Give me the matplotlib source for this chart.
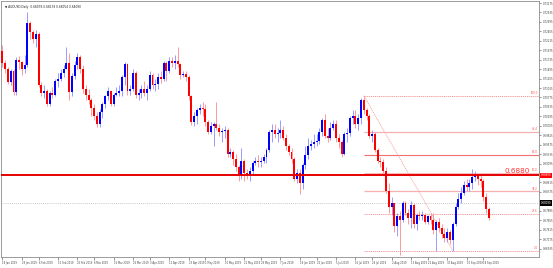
import matplotlib
matplotlib.use("Agg")
import matplotlib.pyplot as plt

# ---------------- data (AUDUSD daily, prices in pips /10000) ----------------
first_open = 7195
close = [7165, 7150, 7118, 7145, 7092, 7172, 7168, 7150, 7160, 7268,
         7245, 7225, 7238, 7110, 7090, 7095, 7062, 7090, 7085, 7120,
         7125, 7140, 7150, 7165, 7092, 7132, 7160, 7180, 7150, 7100,
         7085, 7070, 7050, 7030, 7010, 7040, 7060, 7080, 7095, 7060,
         7085, 7090, 7095, 7130, 7162, 7095, 7100, 7140, 7085, 7088,
         7100, 7090, 7100, 7135, 7110, 7112, 7130, 7125, 7165, 7145,
         7170, 7165, 7170, 7163, 7135, 7136, 7130, 7080, 7015, 7030,
         7045, 7050, 7048, 7015, 6990, 7005, 7010, 7000, 6990, 6992,
         6995, 6935, 6940, 6920, 6900, 6880, 6915, 6885, 6880, 6890,
         6910, 6915, 6914, 6915, 6925, 6945, 6990, 6995, 6985, 6987,
         6995, 6975, 6955, 6940, 6920, 6870, 6885, 6860, 6905, 6930,
         6955, 6960, 6965, 6966, 6990, 7020, 6980, 6975, 7000, 7010,
         6975, 6965, 6935, 6985, 6986, 7025, 7030, 7010, 7025, 7070,
         7045, 7030, 6980, 6985, 6945, 6915, 6914, 6890, 6840, 6800,
         6810, 6750, 6775, 6765, 6810, 6785, 6770, 6805, 6755, 6780,
         6775, 6780, 6760, 6775, 6765, 6740, 6760, 6745, 6730, 6720,
         6735, 6715, 6755, 6800, 6820, 6835, 6855, 6850, 6860, 6875,
         6880, 6870, 6865, 6825, 6795, 6770]
high = [7210, 7172, 7155, 7150, 7150, 7180, 7182, 7170, 7185, 7296,
        7272, 7250, 7250, 7245, 7118, 7110, 7100, 7095, 7105, 7125,
        7140, 7150, 7160, 7206, 7190, 7140, 7170, 7190, 7185, 7160,
        7110, 7100, 7075, 7060, 7040, 7048, 7065, 7085, 7105, 7095,
        7090, 7105, 7110, 7135, 7168, 7165, 7110, 7150, 7145, 7100,
        7110, 7120, 7110, 7145, 7140, 7125, 7140, 7145, 7170, 7170,
        7180, 7180, 7185, 7207, 7165, 7145, 7145, 7135, 7085, 7040,
        7050, 7060, 7065, 7060, 7020, 7015, 7015, 7065, 7010, 7000,
        7005, 7000, 6950, 6945, 6935, 6905, 6950, 6920, 6895, 6900,
        6915, 6925, 6930, 6925, 6935, 6950, 6995, 7010, 7010, 7000,
        7020, 7005, 6985, 6960, 6950, 6925, 6895, 6895, 6910, 6955,
        6975, 6970, 6985, 6985, 7000, 7025, 7035, 7000, 7015, 7020,
        7020, 6985, 6970, 6990, 7000, 7030, 7045, 7045, 7035, 7075,
        7082, 7050, 7035, 6995, 6990, 6950, 6925, 6920, 6900, 6860,
        6825, 6805, 6785, 6790, 6815, 6815, 6795, 6815, 6810, 6785,
        6790, 6790, 6785, 6780, 6785, 6785, 6765, 6770, 6755, 6745,
        6745, 6740, 6760, 6810, 6835, 6850, 6865, 6870, 6870, 6895,
        6890, 6880, 6885, 6870, 6835, 6800]
low = [7155, 7140, 7112, 7110, 7085, 7085, 7150, 7135, 7140, 7155,
       7225, 7215, 7205, 7105, 7080, 7075, 7055, 7055, 7075, 7080,
       7105, 7120, 7130, 7150, 7070, 7080, 7125, 7150, 7140, 7090,
       7070, 7060, 7030, 7020, 7003, 7003, 7025, 7050, 7070, 7055,
       7055, 7080, 7080, 7080, 7110, 7085, 7085, 7095, 7075, 7070,
       7075, 7080, 7070, 7095, 7100, 7095, 7100, 7115, 7120, 7120,
       7140, 7155, 7150, 7155, 7125, 7130, 7120, 7070, 7008, 7005,
       7010, 7035, 7030, 7005, 6985, 6985, 6955, 6995, 6980, 6965,
       6975, 6925, 6925, 6905, 6890, 6865, 6870, 6865, 6870, 6865,
       6880, 6905, 6900, 6900, 6910, 6910, 6940, 6965, 6975, 6965,
       6975, 6970, 6945, 6930, 6910, 6865, 6860, 6832, 6845, 6895,
       6920, 6945, 6950, 6955, 6960, 6980, 6975, 6965, 6970, 6995,
       6965, 6950, 6925, 6930, 6965, 6980, 7010, 7000, 6995, 7010,
       7035, 7020, 6975, 6965, 6940, 6910, 6900, 6880, 6835, 6785,
       6780, 6735, 6725, 6677, 6760, 6780, 6755, 6745, 6745, 6740,
       6765, 6765, 6755, 6755, 6755, 6730, 6688, 6735, 6720, 6710,
       6710, 6705, 6688, 6750, 6795, 6810, 6830, 6840, 6840, 6845,
       6865, 6855, 6850, 6815, 6785, 6765]

xtick_idx = [0, 7, 13, 20, 27, 33, 40, 47, 53, 60, 67, 73, 80, 87, 93, 100,
             107, 113, 120, 127, 133, 140, 147, 153, 160, 167, 173]
xtick_labels = ["18 Jan 2019", "29 Jan 2019", "6 Feb 2019", "15 Feb 2019",
                "26 Feb 2019", "6 Mar 2019", "15 Mar 2019", "26 Mar 2019",
                "3 Apr 2019", "12 Apr 2019", "23 Apr 2019", "1 May 2019",
                "10 May 2019", "21 May 2019", "29 May 2019", "7 Jun 2019",
                "18 Jun 2019", "26 Jun 2019", "5 Jul 2019", "16 Jul 2019",
                "24 Jul 2019", "2 Aug 2019", "13 Aug 2019", "21 Aug 2019",
                "30 Aug 2019", "10 Sep 2019", "18 Sep 2019"]

ytick_vals = [0.73175, 0.72935, 0.72695, 0.72455, 0.72215, 0.71975, 0.71735,
              0.71495, 0.71255, 0.71015, 0.70775, 0.70535, 0.70295, 0.70055,
              0.69815, 0.69575, 0.69335, 0.69095, 0.68855, 0.68615, 0.68375,
              0.68135, 0.67895, 0.67655, 0.67415, 0.67175, 0.66935]

fib_high, fib_low = 0.7082, 0.6688
fib_start, fib_end = 130, 162
fib_ratios = [1.0, 0.764, 0.618, 0.5, 0.382, 0.236, 0.0]
fib_labels = ["100.0", "76.4", "61.8", "50.0", "38.2", "23.6", "0.0"]
level_line = 0.6880
level_label = "0.68800"
bid_line = 0.6809
bid_label = "0.68090"
title_text = "\u25bc AUDUSD,Daily  0.68076 0.68139 0.68054 0.68090"

# ---------------- figure ----------------
W, H = 553, 268
fig = plt.figure(figsize=(W / 100, H / 100), dpi=100)
fig.patch.set_facecolor("white")
ax = fig.add_axes([1 / W, 11 / H, 538 / W, 256 / H])
ax.set_facecolor("white")

k = (fib_high - fib_low) / 155.0
ytop = fib_high + 94.7 * k
ybot = fib_high - 161.3 * k
ax.set_ylim(ybot, ytop)
xl, xr = -0.5, -0.5 + 538 / 2.78
ax.set_xlim(xl, xr)

opens = [first_open] + close[:-1]
for i, (o, c, h, l) in enumerate(zip(opens, close, high, low)):
    o, c, h, l = o / 1e4, c / 1e4, h / 1e4, l / 1e4
    bull = c >= o
    col = "#0000ff" if bull else "#ff0000"
    wcol = "#9a9aff" if bull else "#ff9a9a"
    ax.vlines(i, l, h, color=wcol, lw=0.7, zorder=2)
    bottom = min(o, c)
    hgt = max(abs(c - o), 0.00012)
    ax.bar(i, hgt, bottom=bottom, width=0.7, color=col, lw=0, zorder=3)

# horizontal level line
ax.axhline(level_line, color="#e60000", lw=1.4, zorder=4)
ax.text(xr - 3.2, level_line + 0.0004, "0.6880", color="#ff3030",
        fontsize=5.2, ha="right", va="bottom", zorder=6)

# bid line
ax.axhline(bid_line, color="#b4b4b4", lw=0.6, ls=(0, (1, 1.5)), zorder=1)

# fibonacci
for r, lab in zip(fib_ratios, fib_labels):
    lv = fib_low + r * (fib_high - fib_low)
    if r in (0.618,):
        ax.hlines(lv, fib_start, xr, color="#f07070", lw=0.8, zorder=1)
    elif r in (0.764, 0.382):
        ax.hlines(lv, fib_start, xr, color="#f6b0b0", lw=0.9, zorder=1)
    elif r == 0.5:
        ax.hlines(lv, fib_start, xr, color="#f6b0b0", lw=0.6, zorder=1)
    else:
        ax.hlines(lv, fib_start, xr, color="#f08c8c", lw=0.6,
                  ls=(0, (1.5, 1)), zorder=1)
    ax.text(xr - 0.5, lv + 0.0002, lab, color="#ff5050", fontsize=1.9,
            ha="right", va="bottom", zorder=6)
ax.plot([fib_start, fib_end], [fib_high, fib_low], color="#f4a0a0", lw=0.6,
        ls=(0, (1.5, 1)), zorder=1)

# axes styling
for s in ax.spines.values():
    s.set_color("#8c8c8c")
    s.set_linewidth(0.6)
ax.yaxis.tick_right()
ax.set_yticks(ytick_vals)
ylabels = []
for v in ytick_vals:
    near_special = (abs(v - level_line) < 0.0012) or (abs(v - bid_line) < 0.0012)
    ylabels.append("" if near_special else f"{v:.5f}")
ax.set_yticklabels(ylabels)
ax.tick_params(axis="y", labelsize=1.9, colors="#444444", length=1.5,
               width=0.4, pad=1.2)
ax.set_xticks(xtick_idx)
ax.set_xticklabels(xtick_labels, ha="left")
ax.tick_params(axis="x", labelsize=1.8, colors="#444444", length=2,
               width=0.4, pad=0.8)

# highlighted price labels on right axis
ax.text(1.004, level_line, level_label, transform=ax.get_yaxis_transform(),
        fontsize=1.9, color="white", va="center", ha="left",
        bbox=dict(boxstyle="square,pad=0.25", fc="#ff0000", ec="none"),
        clip_on=False, zorder=7)
ax.text(1.004, bid_line, bid_label, transform=ax.get_yaxis_transform(),
        fontsize=1.9, color="white", va="center", ha="left",
        bbox=dict(boxstyle="square,pad=0.25", fc="#000000", ec="none"),
        clip_on=False, zorder=7)

ax.text(0.008, 0.985, title_text, transform=ax.transAxes, fontsize=2.1,
        color="#222222", ha="left", va="top", zorder=8,
        family=["DejaVu Sans"])

fig.savefig("out.png", dpi=100, facecolor="white")
